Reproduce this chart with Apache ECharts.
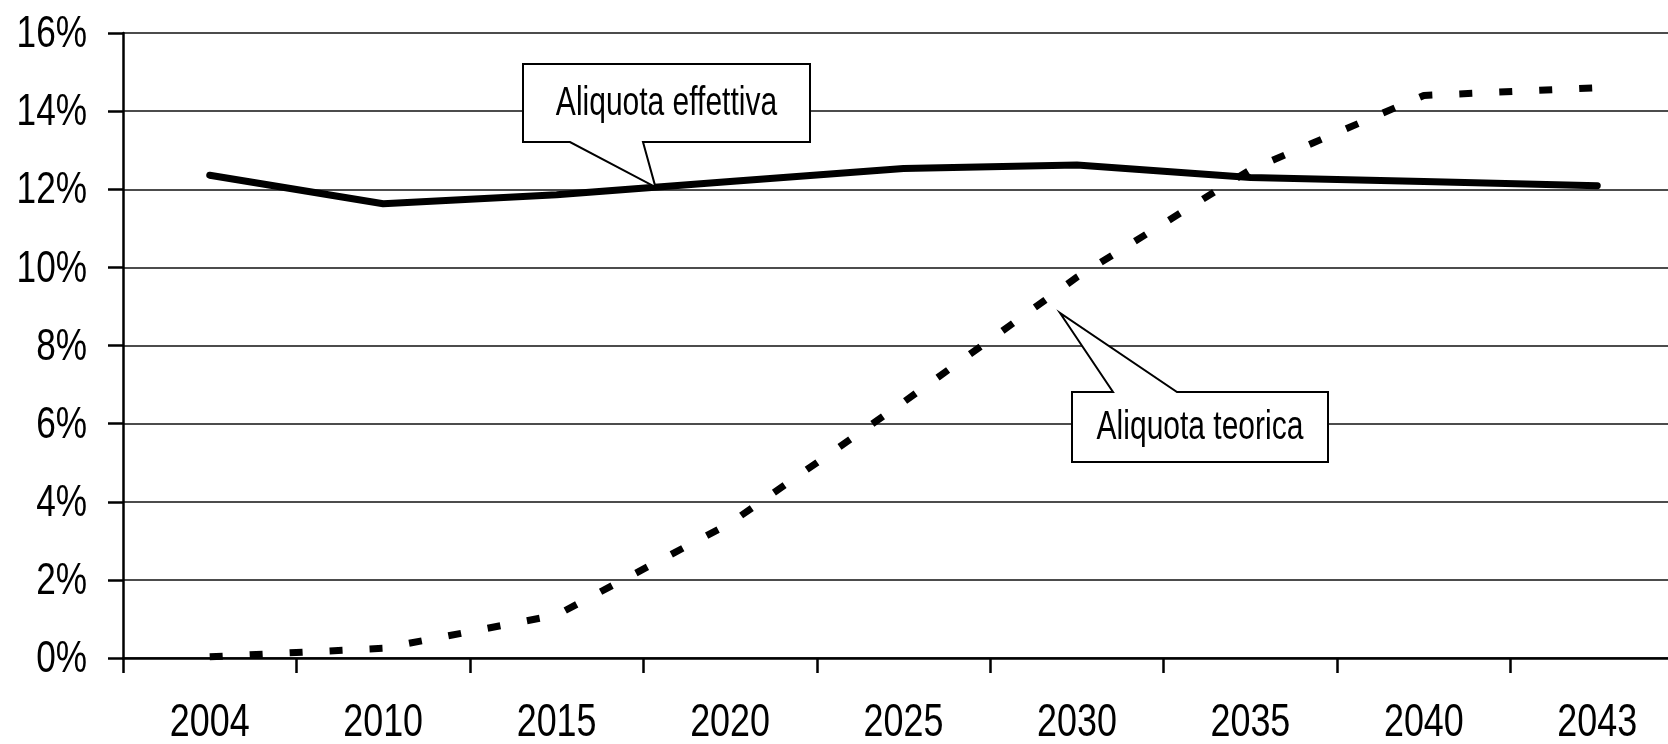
<!DOCTYPE html>
<html>
<head>
<meta charset="utf-8">
<script src="https://cdn.jsdelivr.net/npm/echarts@6/dist/echarts.min.js"></script>
<style>
  html, body { margin: 0; padding: 0; background: #ffffff; }
  #chart { width: 1668px; height: 744px; }
</style>
</head>
<body>
<div id="chart"></div>
<script>
// Years on the horizontal axis
const years = ['2004', '2010', '2015', '2020', '2025', '2030', '2035', '2040', '2043'];
// Effective rate (%)
const aliquotaEffettiva = [12.36, 11.63, 11.86, 12.2, 12.53, 12.62, 12.3, 12.2, 12.09];
// Theoretical rate (%)
const aliquotaTeorica = [0.03, 0.25, 1.1, 3.45, 6.55, 9.75, 12.5, 14.4, 14.6];
// Vertical axis ticks and their labels
const yTicks = [0, 2, 4, 6, 8, 10, 12, 14, 16];
const yTickLabels = ['0%', '2%', '4%', '6%', '8%', '10%', '12%', '14%', '16%'];
// Callout captions
const calloutEffettiva = 'Aliquota effettiva';
const calloutTeorica = 'Aliquota teorica';

const FONT = '"Liberation Sans", Arial, sans-serif';
// Condensed lettering: the sans face is narrowed horizontally
const NARROW_AXIS_Y = 0.8;
const NARROW_AXIS_X = 0.78;
const NARROW_CALLOUT = 0.75;

const chart = echarts.init(document.getElementById('chart'), null, { renderer: 'canvas' });

chart.setOption({
  animation: false,
  backgroundColor: '#ffffff',
  grid: { left: 123, top: 33, width: 1561, height: 625, containLabel: false, outerBoundsMode: 'none' },
  xAxis: {
    type: 'category',
    data: years,
    boundaryGap: true,
    axisLine: { lineStyle: { color: '#000', width: 2.5 } },
    axisTick: { show: true, length: 15, inside: false, lineStyle: { color: '#000', width: 2.5 } },
    axisLabel: { show: false },
    splitLine: { show: false }
  },
  yAxis: {
    type: 'value',
    min: 0,
    max: 16,
    interval: 2,
    axisLine: { show: true, lineStyle: { color: '#000', width: 2.5 } },
    axisTick: { show: true, length: 15, inside: false, lineStyle: { color: '#000', width: 2.5 } },
    axisLabel: { show: false },
    splitLine: { show: true, lineStyle: { color: '#111', width: 1.5 } }
  },
  series: [
    {
      name: calloutTeorica,
      type: 'line',
      data: aliquotaTeorica,
      symbol: 'none',
      lineStyle: { color: '#000', width: 7, type: [13, 27], cap: 'butt' },
      z: 3
    },
    {
      name: calloutEffettiva,
      type: 'line',
      data: aliquotaEffettiva,
      symbol: 'none',
      lineStyle: { color: '#000', width: 7, cap: 'round', join: 'round' },
      z: 4
    }
  ]
});

function px(i, v) { return chart.convertToPixel({ seriesIndex: 0 }, [i, v]); }
function lerp(a, b, t) { return [a[0] + (b[0] - a[0]) * t, a[1] + (b[1] - a[1]) * t]; }

const graphics = [];

// Axis labels in condensed lettering, placed through the axis scales
yTicks.forEach((v, k) => {
  const p = chart.convertToPixel({ yAxisIndex: 0 }, v);
  graphics.push({
    type: 'text', x: 87, y: p + 2, scaleX: NARROW_AXIS_Y, silent: true,
    style: { text: yTickLabels[k], fill: '#000', fontFamily: FONT, fontSize: 44, align: 'right', verticalAlign: 'middle' }
  });
});
years.forEach((yr, i) => {
  const p = chart.convertToPixel({ xAxisIndex: 0 }, i);
  graphics.push({
    type: 'text', x: p, y: 723, scaleX: NARROW_AXIS_X, silent: true,
    style: { text: yr, fill: '#000', fontFamily: FONT, fontSize: 46, align: 'center', verticalAlign: 'middle' }
  });
});

// Callout boxes with pointer wedges
const tip1 = lerp(px(2, aliquotaEffettiva[2]), px(3, aliquotaEffettiva[3]), 0.57);
const tip2 = [1060, 313];
const box1 = { x0: 523, y0: 64, x1: 810, y1: 142 };
const box2 = { x0: 1072, y0: 392, x1: 1328, y1: 462 };

const calloutStyle = { fill: '#fff', stroke: '#000', lineWidth: 2 };
const calloutText = { fill: '#000', fontFamily: FONT, fontSize: 40, align: 'center', verticalAlign: 'middle' };

graphics.push(
  {
    type: 'polygon', z: 100,
    shape: { points: [
      [box1.x0, box1.y0], [box1.x1, box1.y0], [box1.x1, box1.y1],
      [643, box1.y1], tip1, [570, box1.y1], [box1.x0, box1.y1]
    ] },
    style: calloutStyle
  },
  {
    type: 'text', z: 101,
    x: (box1.x0 + box1.x1) / 2, y: (box1.y0 + box1.y1) / 2 + 1, scaleX: NARROW_CALLOUT,
    style: Object.assign({ text: calloutEffettiva }, calloutText)
  },
  {
    type: 'polygon', z: 100,
    shape: { points: [
      [box2.x0, box2.y0], [1113, box2.y0], tip2, [1177, box2.y0],
      [box2.x1, box2.y0], [box2.x1, box2.y1], [box2.x0, box2.y1]
    ] },
    style: calloutStyle
  },
  {
    type: 'text', z: 101,
    x: (box2.x0 + box2.x1) / 2, y: (box2.y0 + box2.y1) / 2 + 1, scaleX: NARROW_CALLOUT,
    style: Object.assign({ text: calloutTeorica }, calloutText)
  }
);

chart.setOption({ graphic: graphics });
</script>
</body>
</html>
